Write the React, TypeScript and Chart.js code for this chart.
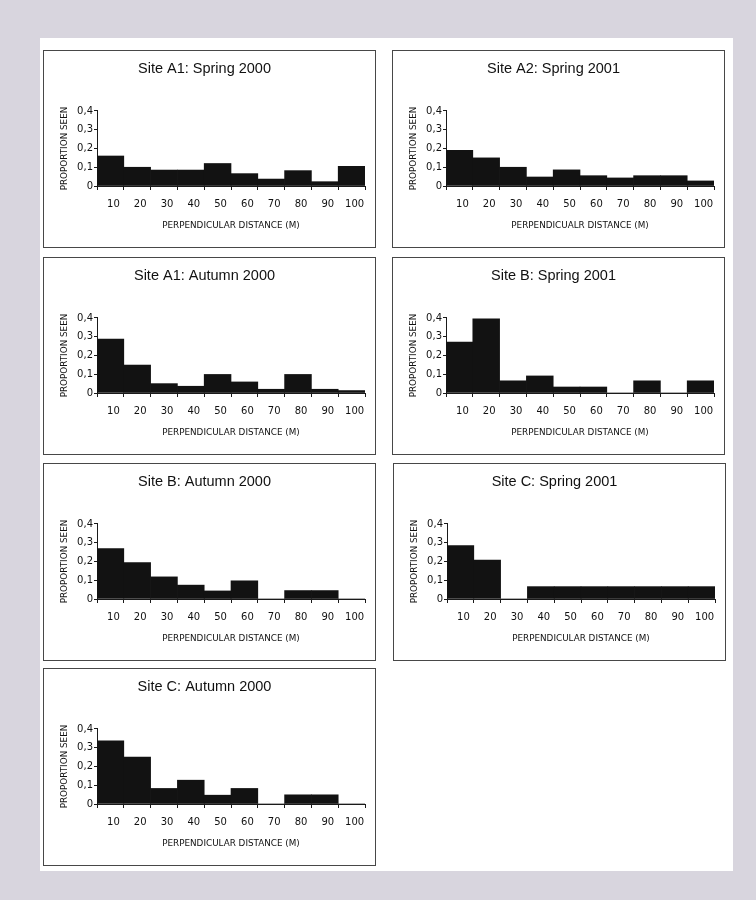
import React, { useEffect, useRef } from "react";
import { Chart, registerables } from "chart.js";

Chart.register(...registerables);

// ---- data ----
const distanceBins = ["10", "20", "30", "40", "50", "60", "70", "80", "90", "100"];

const siteA1Spring2000 = [0.16, 0.1, 0.085, 0.085, 0.12, 0.066, 0.037, 0.082, 0.023, 0.105];
const siteA2Spring2001 = [0.19, 0.15, 0.1, 0.048, 0.086, 0.055, 0.043, 0.055, 0.055, 0.027];
const siteA1Autumn2000 = [0.287, 0.149, 0.05, 0.036, 0.099, 0.059, 0.02, 0.099, 0.02, 0.013];
const siteBSpring2001 = [0.272, 0.396, 0.065, 0.091, 0.032, 0.032, 0, 0.065, 0, 0.065];
const siteBAutumn2000 = [0.269, 0.194, 0.118, 0.074, 0.043, 0.097, 0, 0.045, 0.045, 0];
const siteCSpring2001 = [0.285, 0.208, 0, 0.066, 0.066, 0.066, 0.066, 0.066, 0.066, 0.066];
const siteCAutumn2000 = [0.337, 0.25, 0.083, 0.127, 0.047, 0.083, 0, 0.049, 0.049, 0];

const panelTitles = [
  "Site A1: Spring 2000",
  "Site A2: Spring 2001",
  "Site A1: Autumn 2000",
  "Site B: Spring 2001",
  "Site B: Autumn 2000",
  "Site C: Spring 2001",
  "Site C: Autumn 2000",
];

const xAxisTitles = [
  "PERPENDICULAR DISTANCE (M)",
  "PERPENDICUALR DISTANCE (M)",
  "PERPENDICULAR DISTANCE (M)",
  "PERPENDICULAR DISTANCE (M)",
  "PERPENDICULAR DISTANCE (M)",
  "PERPENDICULAR DISTANCE (M)",
  "PERPENDICULAR DISTANCE (M)",
];

const yAxisTitle = "PROPORTION SEEN";

const seriesList = [
  siteA1Spring2000,
  siteA2Spring2001,
  siteA1Autumn2000,
  siteBSpring2001,
  siteBAutumn2000,
  siteCSpring2001,
  siteCAutumn2000,
];

// ---- layout (positions only) ----
const panelLefts = [43, 392, 43, 392, 43, 393, 43];
const panelTops = [50, 50, 257, 257, 463, 463, 668];
const BOX_W = 333;
const BOX_H = 198;
const CANVAS_W = BOX_W - 2;
const CANVAS_H = BOX_H - 2;

const AXIS_FONT = "'DejaVu Sans', Tahoma, Verdana, sans-serif";
const TITLE_FONT = "'Liberation Sans', Arial, Helvetica, sans-serif";

function HistogramPanel(props: {
  title: string;
  values: number[];
  xTitle: string;
  left: number;
  top: number;
}) {
  const canvasRef = useRef<HTMLCanvasElement | null>(null);

  useEffect(() => {
    const canvas = canvasRef.current;
    if (!canvas) return;
    const chart = new Chart(canvas, {
      type: "bar",
      data: {
        labels: distanceBins,
        datasets: [
          {
            data: props.values,
            backgroundColor: "#121212",
            borderWidth: 0,
            barPercentage: 1,
            categoryPercentage: 1,
          },
        ],
      },
      options: {
        responsive: false,
        animation: false,
        devicePixelRatio: 1,
        layout: { padding: { left: 0, right: 10, top: 0, bottom: 0 } },
        plugins: {
          legend: { display: false },
          tooltip: { enabled: false },
          title: {
            display: true,
            text: props.title,
            color: "#111111",
            font: { family: TITLE_FONT, size: 14.5, weight: "normal" },
            padding: { top: 8.8, bottom: 33.8 },
          },
        },
        scales: {
          x: {
            type: "category",
            offset: true,
            afterFit: (scale: any) => {
              scale.height = 61;
            },
            grid: {
              display: true,
              offset: true,
              drawOnChartArea: false,
              drawTicks: true,
              tickLength: 4,
              color: "#1a1a1a",
              lineWidth: 1,
            },
            border: { display: true, color: "#1a1a1a", width: 1 },
            ticks: {
              color: "#111",
              padding: 8.5,
              labelOffset: 3,
              maxRotation: 0,
              autoSkip: false,
              font: { family: AXIS_FONT, size: 10 },
            },
            title: {
              display: true,
              text: props.xTitle,
              color: "#111",
              font: { family: AXIS_FONT, size: 8.8 },
              padding: { top: 0, bottom: 16.5 },
            },
          },
          y: {
            min: 0,
            max: 0.4,
            afterFit: (scale: any) => {
              scale.width = 53;
            },
            grid: {
              display: true,
              drawOnChartArea: false,
              drawTicks: true,
              tickLength: 3,
              color: "#1a1a1a",
              lineWidth: 1,
            },
            border: { display: true, color: "#1a1a1a", width: 1 },
            ticks: {
              stepSize: 0.1,
              color: "#111",
              padding: 1,
              font: { family: AXIS_FONT, size: 10 },
              callback: (v: any) => {
                const n = Number(v);
                return n === 0 ? "0" : n.toFixed(1).replace(".", ",");
              },
            },
            title: {
              display: true,
              text: yAxisTitle,
              color: "#111",
              font: { family: AXIS_FONT, size: 8.8 },
              padding: { top: 15.5, bottom: 0 },
            },
          },
        },
      } as any,
    });
    return () => chart.destroy();
  }, [props.title, props.values, props.xTitle]);

  return (
    <div
      style={{
        position: "absolute",
        left: props.left,
        top: props.top,
        width: BOX_W,
        height: BOX_H,
        boxSizing: "border-box",
        border: "1px solid #474747",
        background: "#ffffff",
      }}
    >
      <canvas
        ref={canvasRef}
        width={CANVAS_W}
        height={CANVAS_H}
        style={{ display: "block", width: CANVAS_W, height: CANVAS_H }}
      />
    </div>
  );
}

export default function App() {
  return (
    <div
      style={{
        position: "absolute",
        left: 0,
        top: 0,
        width: 756,
        height: 900,
        background: "#d8d5de",
        overflow: "hidden",
      }}
    >
      <div
        style={{
          position: "absolute",
          left: 40,
          top: 38,
          width: 693,
          height: 833,
          background: "#ffffff",
        }}
      />
      {seriesList.map((values, i) => (
        <HistogramPanel
          key={i}
          title={panelTitles[i]}
          values={values}
          xTitle={xAxisTitles[i]}
          left={panelLefts[i]}
          top={panelTops[i]}
        />
      ))}
    </div>
  );
}
